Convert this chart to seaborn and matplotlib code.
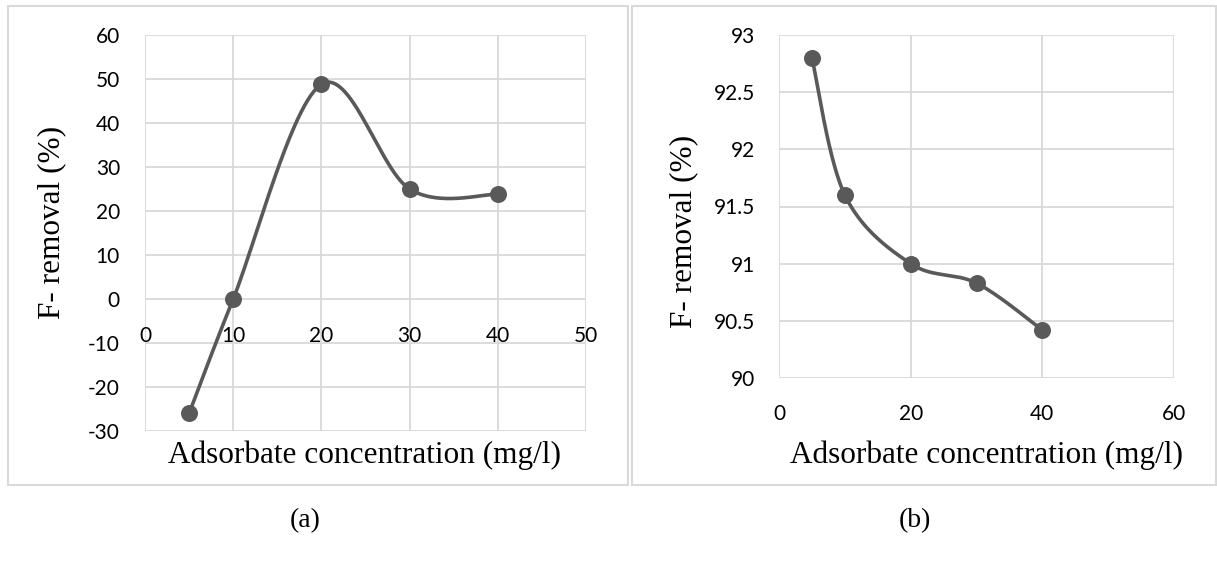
import numpy as np
import pandas as pd
import matplotlib
matplotlib.use("Agg")
import matplotlib.pyplot as plt
from matplotlib.patches import Rectangle
import seaborn as sns

# Adsorbate concentration (mg/l) and fluoride removal (%)
conc = [5, 10, 20, 30, 40]
removal_a = [-26.0, 0.0, 48.8, 25.0, 23.8]
removal_b = [92.8, 91.6, 91.0, 90.83, 90.42]

xticks_a = [0, 10, 20, 30, 40, 50]
yticks_a = [-30, -20, -10, 0, 10, 20, 30, 40, 50, 60]
xticks_b = [0, 20, 40, 60]
yticks_b = [90, 90.5, 91, 91.5, 92, 92.5, 93]
ytick_labels_b = ["90", "90.5", "91", "91.5", "92", "92.5", "93"]

LINE = "#595959"
GRID = "#d9d9d9"
TICK_FONT = "Lato"
LABEL_FONT = "Liberation Serif"

sns.set_theme(style="white")
plt.rcParams["font.family"] = ["Lato", "DejaVu Sans"]
plt.rcParams["axes.unicode_minus"] = False


def smooth_curve(xs, ys, n=60):
    """Catmull-Rom style Bezier smoothing through the given points."""
    p = np.column_stack([xs, ys]).astype(float)
    ext = np.vstack([p[0], p, p[-1]])
    out = []
    t = np.linspace(0, 1, n)[:, None]
    for i in range(len(p) - 1):
        p0, p1, p2, p3 = ext[i], ext[i + 1], ext[i + 2], ext[i + 3]
        c1 = p1 + (p2 - p0) / 6.0
        c2 = p2 - (p3 - p1) / 6.0
        seg = ((1 - t) ** 3) * p1 + 3 * ((1 - t) ** 2) * t * c1 \
            + 3 * (1 - t) * t ** 2 * c2 + t ** 3 * p2
        out.append(seg if i == 0 else seg[1:])
    pts = np.vstack(out)
    return pts[:, 0], pts[:, 1]


def draw_panel(ax, ys, xlim, ylim, xt, yt, ytl=None):
    cx, cy = smooth_curve(conc, ys)
    curve = pd.DataFrame({"x": cx, "y": cy})
    pts = pd.DataFrame({"x": conc, "y": ys})
    sns.lineplot(data=curve, x="x", y="y", ax=ax, sort=False, estimator=None,
                 color=LINE, linewidth=2.6, zorder=3)
    sns.scatterplot(data=pts, x="x", y="y", ax=ax, color=LINE, s=150,
                    edgecolor=LINE, linewidth=0, zorder=4)
    ax.set_xlim(*xlim)
    ax.set_ylim(*ylim)
    ax.set_xticks(xt)
    ax.set_yticks(yt)
    if ytl is not None:
        ax.set_yticklabels(ytl)
    ax.grid(True, color=GRID, linewidth=1.3)
    ax.set_axisbelow(True)
    for s in ax.spines.values():
        s.set_visible(False)
    ax.tick_params(length=0, labelsize=15, colors="black")
    for lab in ax.get_xticklabels() + ax.get_yticklabels():
        lab.set_fontfamily(TICK_FONT)
    ax.set_xlabel("")
    ax.set_ylabel("")


fig = plt.figure(figsize=(12.17, 5.61), dpi=100)
W, H = 1217.0, 561.0

def fx(px):
    return px / W

def fy(py):
    return 1 - py / H

# panel (a): category labels sit just under the zero line
ax_a = fig.add_axes([fx(145), fy(431), fx(586) - fx(145), fy(35) - fy(431)])
draw_panel(ax_a, removal_a, (0, 50), (-30, 60), xticks_a, yticks_a)
ax_a.tick_params(axis="x", pad=-(431 - 298) / 100 * 72 + 20)
ax_a.tick_params(axis="y", pad=18)

# panel (b)
ax_b = fig.add_axes([fx(779), fy(378), fx(1174) - fx(779), fy(35) - fy(378)])
draw_panel(ax_b, removal_b, (0, 60), (90, 93), xticks_b, yticks_b, ytick_labels_b)
ax_b.tick_params(axis="x", pad=19)
ax_b.tick_params(axis="y", pad=17)

# chart frames
fig.patches.append(Rectangle((fx(8), fy(485)), fx(628) - fx(8), fy(6) - fy(485),
                             transform=fig.transFigure, fill=False,
                             edgecolor=GRID, linewidth=1.5))
fig.patches.append(Rectangle((fx(632), fy(485)), fx(1216) - fx(632), fy(6) - fy(485),
                             transform=fig.transFigure, fill=False,
                             edgecolor=GRID, linewidth=1.5))

# axis titles
lab_kw = dict(family=LABEL_FONT, fontsize=22.5, color="black")
fig.text(fx(365), fy(455), "Adsorbate concentration (mg/l)", ha="center", va="center", **lab_kw)
fig.text(fx(986), fy(455), "Adsorbate concentration (mg/l)", ha="center", va="center", **lab_kw)
fig.text(fx(52), fy(222), "F- removal (%)", ha="center", va="center", rotation=90, **lab_kw)
fig.text(fx(684), fy(231), "F- removal (%)", ha="center", va="center", rotation=90, **lab_kw)

# panel captions
cap_kw = dict(family=LABEL_FONT, fontsize=20, color="black", ha="center", va="center")
fig.text(fx(305), fy(521), "(a)", **cap_kw)
fig.text(fx(915), fy(521), "(b)", **cap_kw)

fig.savefig("out.png", dpi=100, facecolor="white")
